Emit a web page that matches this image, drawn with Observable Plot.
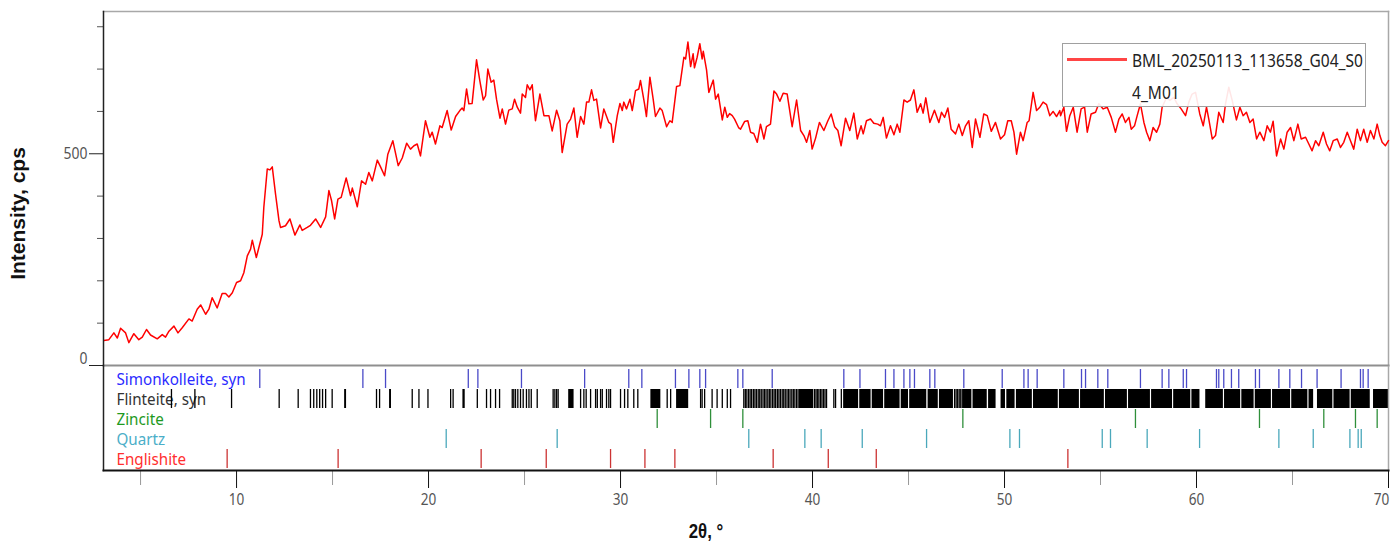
<!DOCTYPE html>
<html><head><meta charset="utf-8">
<script src="https://cdn.jsdelivr.net/npm/d3@7"></script>
<script src="https://cdn.jsdelivr.net/npm/@observablehq/plot@0.6"></script>
<style>
html,body{margin:0;padding:0;background:#fff;}
#chart{position:relative;width:1400px;height:544px;overflow:hidden;background:#fff;}
#chart svg{display:block;}
#main{position:absolute;left:0;top:0;}
#panel{position:absolute;left:0;top:366px;}
#legend{position:absolute;left:1062px;top:43px;width:302px;height:62px;border:1px solid #a0a0a0;background:rgba(255,255,255,0.9);}
#legend .sw{position:absolute;left:4px;top:14px;width:60px;height:3px;background:#ff4545;}
#legend .tx{position:absolute;left:69px;top:0;line-height:32px;color:#222;white-space:pre;transform-origin:0 0;}
</style></head><body>
<div id="chart"><div id="main"></div><div id="panel"></div><div id="legend"><div class="sw"></div><div class="tx"></div></div></div>
<script>
// ---------- data ----------
const twoTheta = [
 3.09,3.35,3.61,3.79,3.96,4.22,4.39,4.65,4.91,5.09,5.31,5.52,5.87,6.13,6.30,6.48,6.74,6.95,7.17,7.52,
 7.69,7.95,8.13,8.39,8.56,8.73,8.99,9.25,9.43,9.60,9.78,10.00,10.21,10.38,10.56,10.73,10.82,11.03,11.34,11.42,
 11.60,11.74,11.86,12.03,12.21,12.29,12.55,12.78,13.04,13.30,13.42,13.68,13.85,14.12,14.38,14.64,14.81,14.95,15.11,15.28,
 15.45,15.71,15.94,16.03,16.29,16.51,16.72,16.89,17.07,17.33,17.50,17.71,17.88,18.14,18.42,18.63,18.86,19.06,19.24,19.41,
 19.58,19.84,20.07,20.19,20.36,20.59,20.71,20.97,21.18,21.41,21.63,21.75,21.84,21.98,22.10,22.27,22.50,22.67,22.85,22.97,
 23.09,23.26,23.40,23.54,23.72,23.84,24.01,24.18,24.36,24.48,24.62,24.79,24.88,25.05,25.14,25.28,25.40,25.57,25.80,26.01,
 26.27,26.44,26.67,26.84,26.96,27.22,27.40,27.57,27.74,27.92,28.09,28.23,28.35,28.49,28.61,28.75,28.96,29.13,29.39,29.51,
 29.62,29.83,29.97,30.09,30.17,30.31,30.49,30.61,30.78,30.95,31.04,31.25,31.35,31.53,31.70,31.82,32.05,32.17,32.40,32.57,
 32.69,32.92,33.09,33.30,33.39,33.51,33.65,33.78,33.85,33.99,34.13,34.25,34.31,34.48,34.60,34.83,34.95,35.09,35.30,35.43,
 35.56,35.68,35.82,35.94,36.16,
 36.25,36.46,36.63,36.77,36.94,37.12,37.29,37.47,37.60,37.81,37.99,38.13,38.30,38.47,38.68,38.94,39.17,39.38,39.55,39.69,
 39.86,39.98,40.16,40.36,40.59,40.80,40.97,41.15,41.32,41.49,41.72,41.94,42.15,42.33,42.53,42.64,42.81,43.02,43.19,43.40,
 43.54,43.68,43.85,44.06,44.24,44.41,44.55,44.76,44.93,45.10,45.28,45.45,45.63,45.76,45.90,46.11,46.35,46.58,46.72,46.88,
 47.05,47.22,47.45,47.62,47.80,47.97,48.14,48.32,48.49,48.72,48.92,49.10,49.31,49.53,49.79,50.00,50.17,50.35,50.49,50.63,
 50.83,50.97,51.18,51.28,51.49,51.67,51.84,52.01,52.19,52.36,52.53,52.71,52.88,
 52.92,53.09,53.23,53.40,53.58,53.78,53.99,54.17,54.31,54.51,54.74,54.91,55.14,55.35,55.56,55.78,55.96,56.13,56.30,56.48,
 56.60,56.77,56.91,57.08,57.26,57.40,57.57,57.74,57.92,58.09,58.21,58.44,58.61,58.82,58.99,59.20,59.43,59.60,59.77,59.95,
 60.17,60.35,60.52,60.64,60.82,60.99,61.16,61.39,61.51,61.68,61.86,62.08,62.26,62.43,62.60,62.78,62.95,63.13,63.30,63.51,
 63.68,63.85,63.99,64.17,64.38,64.55,64.72,64.90,65.07,65.28,65.45,65.68,65.85,66.02,66.20,66.37,66.60,66.77,66.94,67.12,
 67.33,67.50,67.67,67.85,68.02,68.19,68.37,68.54,68.71,68.89,69.06,69.24,69.41,69.55,69.67,69.84,70.00
];
const intensity = [
 59,61,77,65,88,77,54,75,61,67,85,72,63,73,67,81,93,77,89,110,
 105,133,143,121,133,160,136,170,170,162,172,196,200,219,259,275,296,255,310,373,
 464,462,469,405,342,326,330,346,308,332,319,326,331,346,326,351,413,389,346,393,
 397,443,401,419,375,436,428,456,436,485,469,448,499,531,472,490,525,511,519,523,
 495,578,539,551,523,566,562,602,556,588,602,608,602,653,618,619,722,673,627,637,
 700,669,674,629,584,606,570,603,606,629,610,596,641,633,663,651,663,578,641,590,
 590,554,603,578,503,570,582,608,539,588,570,622,622,651,626,629,561,606,574,570,
 527,590,619,602,622,606,629,602,649,653,673,618,588,681,629,588,608,602,564,578,
 574,659,661,728,724,764,706,736,703,728,760,724,742,698,645,674,629,641,580,610,
 586,595,590,582,561,
 558,576,578,551,548,527,570,535,564,570,648,641,624,643,641,564,627,555,543,527,
 555,511,537,574,555,578,594,564,555,519,584,555,596,535,566,547,578,582,572,570,
 566,586,537,566,545,570,551,627,622,627,651,598,618,596,632,574,603,574,598,586,
 608,558,547,570,543,566,578,515,582,539,594,590,553,574,535,545,578,578,551,499,
 551,531,574,578,645,602,610,622,616,590,600,588,602,
 590,610,553,590,610,551,606,610,551,594,598,618,606,610,586,551,582,594,574,586,
 558,566,590,618,574,551,531,562,551,570,610,633,626,633,618,606,590,622,641,645,
 594,566,610,582,535,543,598,574,618,657,626,580,610,590,598,574,582,535,551,531,
 566,551,577,495,535,511,551,562,531,570,535,539,523,507,531,519,551,523,507,531,
 535,515,527,551,531,511,558,531,558,527,555,535,570,543,527,519,531
];
const seriesName = "BML_20250113_113658_G04_S04_M01";
const yTitle = "Intensity, cps";
const xTitle = "2θ, °";

const phaseNames = ["Simonkolleite, syn", "Flinteite, syn", "Zincite", "Quartz", "Englishite"];
const simonkolleitePeaks = [11.21,16.58,17.76,22.07,22.57,24.84,28.13,30.43,31.11,32.86,33.56,34.13,34.43,36.11,36.37,37.90,
 41.63,42.47,43.80,44.24,44.76,45.07,45.31,46.11,46.37,47.88,49.88,51.01,51.23,51.70,53.09,54.01,54.22,54.86,55.38,
 57.08,58.21,58.56,59.31,59.48,61.04,61.16,61.42,61.82,62.20,63.07,63.28,64.29,64.86,65.47,66.28,67.53,68.54,68.68,68.94];
const flinteitePeaks = [6.61,7.83,9.74,12.22,13.21,13.85,14.02,14.18,14.33,14.48,14.64,14.98,17.29,17.45,19.15,19.50,19.97,
 21.15,21.28,22.54,23.02,23.23,23.49,23.70,24.36,24.44,24.53,24.65,24.79,24.93,25.10,25.23,25.35,25.66,26.49,26.58,26.67,26.75,
 27.92,28.09,28.21,28.44,28.70,28.79,28.96,29.05,29.27,29.39,29.48,30.00,30.21,30.38,30.69,30.90,32.43,32.61,34.17,34.25,34.38,
 34.77,35.03,35.30,35.56,35.73,36.42,36.50,36.58,36.67,36.75,36.83,36.92,37.00,37.08,37.17,37.25,37.33,37.42,37.50,37.58,37.67,
 37.75,37.83,37.92,38.00,38.08,38.17,38.25,38.33,38.42,38.50,38.58,38.67,38.75,38.83,38.92,39.00,39.08,39.17,39.25,39.33,
 40.10,40.18,40.25,40.33,40.41,40.49,40.57,40.65,40.73,41.11,41.20,41.50,47.40,47.48,47.56,47.64,47.72,47.80];
const flinteiteBlocks = [[15.63,15.73],[17.97,18.07],[21.79,21.91],[27.30,27.58],[31.58,32.10],[32.92,33.55],[39.37,40.06],
 [41.62,42.40],[42.46,43.05],[43.11,43.70],[43.76,44.56],[44.62,45.00],[45.06,45.95],[46.02,46.55],[46.61,47.34],[47.86,48.30],
 [48.36,49.10],[49.17,49.56],[49.82,50.05],[50.12,50.55],[50.62,51.45],[51.51,52.80],[52.86,53.90],[53.96,55.20],[55.26,56.40],
 [56.46,57.60],[57.66,58.75],[58.81,59.70],[59.76,60.18],[60.48,61.40],[61.46,62.30],[62.36,63.00],[63.06,63.90],[63.96,64.90],
 [64.96,65.80],[65.86,66.10],[66.30,67.10],[67.16,68.00],[68.06,69.05],[69.22,70.00]];
const zincitePeaks = [31.91,34.69,36.37,47.83,56.82,63.28,66.63,68.28,69.41];
const quartzPeaks = [20.92,26.70,36.68,39.60,40.45,42.59,45.94,50.28,50.78,55.09,55.52,57.43,60.16,64.29,66.08,67.99,68.42,68.58];
const englishitePeaks = [9.51,15.29,22.74,26.13,29.48,31.27,32.83,37.95,40.82,43.32,53.30];

const xMajorTicks = [10,20,30,40,50,60];
const xLastTick = [70];
const xMinorTicks = [5,15,25,35,45,55,65];
const yMinorTicks = [100,200,300,400,600,700,800];
const yMajorTicks = [0,500];
const yLabelTick = [500];
const yZeroTick = [0];
const xDomain = [3.07, 70];
const yDomain = [0, 836];

// ---------- fonts ----------
const F = '"Noto Sans", sans-serif';
const BOLD = '"Liberation Sans", Arial, sans-serif';
// squeeze text horizontally to mimic the narrow face of the original
function condense(svg, cls, factor) {
  svg.querySelectorAll(`.${cls} text`).forEach(t => {
    const w = t.getComputedTextLength();
    if (w > 0) {
      t.setAttribute("textLength", (w * factor).toFixed(2));
      t.setAttribute("lengthAdjust", "spacingAndGlyphs");
    }
  });
}

// ---------- main chart ----------
const pattern = twoTheta.map((t, i) => ({t, v: intensity[i]}));
const main = Plot.plot({
  width: 1400, height: 366,
  marginLeft: 103, marginRight: 12, marginTop: 11, marginBottom: 1,
  x: {domain: xDomain, axis: null},
  y: {domain: yDomain, axis: null},
  style: {fontFamily: F, overflow: "visible", background: "transparent"},
  marks: [
    Plot.frame({anchor: "top", stroke: "#a8a8a8", strokeWidth: 1.5}),
    Plot.frame({anchor: "right", stroke: "#a8a8a8", strokeWidth: 1.5}),
    Plot.frame({anchor: "bottom", stroke: "#8f8f8f", strokeWidth: 2}),
    Plot.line(pattern, {x: "t", y: "v", stroke: "#ff0000", strokeWidth: 1.5}),
    Plot.axisY({ticks: yMinorTicks, tickSize: 6, tickFormat: () => "", stroke: "#555", fill: "none", label: null}),
    Plot.axisY({ticks: yMajorTicks, tickSize: 14, tickFormat: () => "", stroke: "#222", fill: "none", label: null}),
    Plot.axisY({ticks: yLabelTick, tickSize: 0, tickPadding: 16, stroke: "none", fill: "#555", fontSize: 17, fontFamily: F, label: null, className: "cnd"}),
    Plot.axisY({ticks: yZeroTick, tickSize: 0, tickPadding: 16, dy: -7, stroke: "none", fill: "#555", fontSize: 17, fontFamily: F, label: null, className: "cnd"}),
    Plot.frame({anchor: "left", stroke: "#222", strokeWidth: 1.5}),
    Plot.text([yTitle], {frameAnchor: "left", textAnchor: "middle", lineAnchor: "middle", rotate: -90, dx: -85, dy: 25,
      fontWeight: "bold", fontFamily: BOLD, fontSize: 21, fill: "#111"})
  ]
});
document.getElementById("main").appendChild(main);
condense(main, "cnd", 0.82);

// ---------- phase panel ----------
const phaseStyle = [
  {name: phaseNames[0], peaks: simonkolleitePeaks, tick: "#4a4ac8", label: "#2b2bff"},
  {name: phaseNames[1], peaks: flinteitePeaks, tick: "#000000", label: "#333333"},
  {name: phaseNames[2], peaks: zincitePeaks, tick: "#2f8f3a", label: "#1f9a1f"},
  {name: phaseNames[3], peaks: quartzPeaks, tick: "#4aa8bb", label: "#4aaec8"},
  {name: phaseNames[4], peaks: englishitePeaks, tick: "#cc3333", label: "#ff2f2f"}
];
const panelMarks = [];
phaseStyle.forEach(p => {
  panelMarks.push(Plot.text([p.name], {y: d => d, frameAnchor: "left", dx: 13, dy: 2, textAnchor: "start",
    fill: p.label, fontSize: 15.5, fontFamily: F, clip: "frame", className: "plab"}));
});
phaseStyle.forEach(p => {
  panelMarks.push(Plot.tickX(p.peaks, {x: d => d, y: () => p.name, stroke: p.tick, strokeWidth: 1.3, insetTop: 1}));
});
panelMarks.push(Plot.barX(flinteiteBlocks, {x1: d => d[0], x2: d => d[1], y: () => phaseNames[1], fill: "#000", insetTop: 1}));

const panel = Plot.plot({
  width: 1400, height: 178,
  marginLeft: 103, marginRight: 12, marginTop: 0, marginBottom: 74,
  x: {domain: xDomain, axis: null},
  y: {domain: phaseNames, type: "band", padding: 0, axis: null},
  style: {fontFamily: F, overflow: "visible", background: "transparent"},
  marks: [
    ...panelMarks,
    Plot.frame({anchor: "right", stroke: "#a8a8a8", strokeWidth: 1.5}),
    Plot.frame({anchor: "left", stroke: "#222", strokeWidth: 1.5}),
    Plot.axisX({ticks: xMinorTicks, tickSize: 15, tickFormat: () => "", stroke: "#999", fill: "none", label: null}),
    Plot.axisX({ticks: xMajorTicks, tickSize: 18, tickPadding: 4, stroke: "#111", fill: "#555", fontSize: 17, fontFamily: F, label: null, className: "xlab"}),
    Plot.axisX({ticks: xLastTick, tickSize: 18, stroke: "#111", fill: "none", label: null}),
    Plot.axisX({ticks: xLastTick, tickSize: 18, tickPadding: 4, stroke: "none", fill: "#555", dx: -7, fontSize: 17, fontFamily: F, label: null, className: "xlab"}),
    Plot.frame({anchor: "bottom", stroke: "#111", strokeWidth: 2}),
    Plot.text([xTitle], {frameAnchor: "bottom", lineAnchor: "middle", dx: -40, dy: 61, fontWeight: "bold",
      fontFamily: BOLD, fontSize: 21, fill: "#111", className: "xttl"})
  ]
});
document.getElementById("panel").appendChild(panel);
condense(panel, "plab", 0.98);
condense(panel, "xlab", 0.8);
condense(panel, "xttl", 0.8);

// ---------- legend ----------
const tx = document.querySelector("#legend .tx");
tx.style.fontFamily = F;
tx.style.fontSize = "18.5px";
tx.style.transform = "scaleX(0.84)";
tx.textContent = seriesName.slice(0, 26) + "\n" + seriesName.slice(26);
</script></body></html>
